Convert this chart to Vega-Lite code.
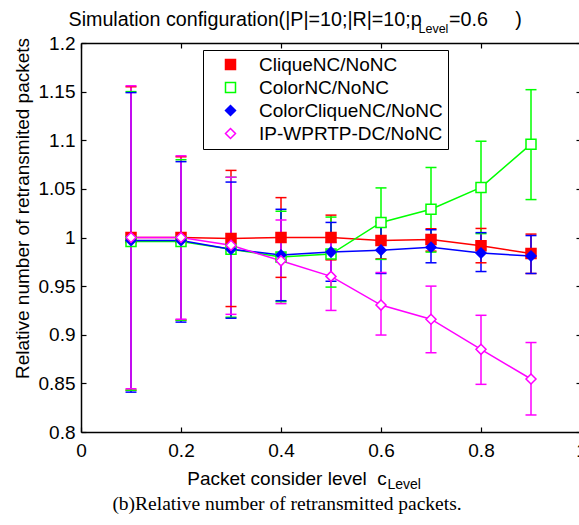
{
  "$schema": "https://vega.github.io/schema/vega-lite/v6.json",
  "width": 500,
  "height": 389,
  "autosize": {"type": "none"},
  "padding": {"left": 81, "top": 43, "right": -2, "bottom": 93},
  "background": "white",
  "config": {
    "view": {"stroke": null},
    "font": "Liberation Sans",
    "axis": {
      "grid": false,
      "domainColor": "black",
      "domainWidth": 1.5,
      "tickColor": "black",
      "tickWidth": 1.2,
      "tickSize": -5,
      "labelColor": "black",
      "labelFont": "Liberation Sans",
      "labelFontSize": 19,
      "titleColor": "black",
      "titleFont": "Liberation Sans",
      "titleFontWeight": "normal",
      "labelFlush": false,
      "labelOverlap": false
    },
    "legend": {
      "labelFont": "Liberation Sans",
      "labelFontSize": 19,
      "labelColor": "black",
      "labelLimit": 400,
      "symbolStrokeWidth": 1.5
    }
  },
  "title": {
    "text": "Packet consider level\u00a0\u00a0c",
    "subtitle": "(b)Relative number of retransmitted packets.",
    "orient": "bottom",
    "anchor": "middle",
    "frame": "group",
    "dx": -44,
    "offset": -21,
    "font": "Liberation Sans",
    "fontSize": 19,
    "fontWeight": "normal",
    "color": "black",
    "subtitleFont": "Liberation Serif",
    "subtitleFontSize": 19.5,
    "subtitleColor": "black",
    "subtitlePadding": 6
  },
  "data": {
    "values": [
      {"s": "CliqueNC/NoNC", "x": 0.1, "y": 1.0, "lo": 0.843, "hi": 1.155},
      {"s": "CliqueNC/NoNC", "x": 0.2, "y": 1.0, "lo": 0.915, "hi": 1.083},
      {"s": "CliqueNC/NoNC", "x": 0.3, "y": 0.999, "lo": 0.929, "hi": 1.069},
      {"s": "CliqueNC/NoNC", "x": 0.4, "y": 1.0, "lo": 0.959, "hi": 1.041},
      {"s": "CliqueNC/NoNC", "x": 0.5, "y": 1.0, "lo": 0.977, "hi": 1.023},
      {"s": "CliqueNC/NoNC", "x": 0.6, "y": 0.997, "lo": 0.978, "hi": 1.016},
      {"s": "CliqueNC/NoNC", "x": 0.7, "y": 0.998, "lo": 0.986, "hi": 1.009},
      {"s": "CliqueNC/NoNC", "x": 0.8, "y": 0.9915, "lo": 0.974, "hi": 1.0093},
      {"s": "CliqueNC/NoNC", "x": 0.9, "y": 0.9835, "lo": 0.963, "hi": 1.0035},
      {"s": "ColorNC/NoNC", "x": 0.1, "y": 0.996, "lo": 0.843, "hi": 1.15},
      {"s": "ColorNC/NoNC", "x": 0.2, "y": 0.996, "lo": 0.915, "hi": 1.08},
      {"s": "ColorNC/NoNC", "x": 0.3, "y": 0.988, "lo": 0.918, "hi": 1.062},
      {"s": "ColorNC/NoNC", "x": 0.4, "y": 0.98, "lo": 0.934, "hi": 1.027},
      {"s": "ColorNC/NoNC", "x": 0.5, "y": 0.983, "lo": 0.949, "hi": 1.021},
      {"s": "ColorNC/NoNC", "x": 0.6, "y": 1.0155, "lo": 0.9775, "hi": 1.051},
      {"s": "ColorNC/NoNC", "x": 0.7, "y": 1.029, "lo": 0.985, "hi": 1.072},
      {"s": "ColorNC/NoNC", "x": 0.8, "y": 1.0515, "lo": 1.004, "hi": 1.099},
      {"s": "ColorNC/NoNC", "x": 0.9, "y": 1.096, "lo": 1.039, "hi": 1.152},
      {"s": "ColorCliqueNC/NoNC", "x": 0.1, "y": 0.997, "lo": 0.841, "hi": 1.149},
      {"s": "ColorCliqueNC/NoNC", "x": 0.2, "y": 0.997, "lo": 0.913, "hi": 1.078},
      {"s": "ColorCliqueNC/NoNC", "x": 0.3, "y": 0.988, "lo": 0.917, "hi": 1.057},
      {"s": "ColorCliqueNC/NoNC", "x": 0.4, "y": 0.982, "lo": 0.935, "hi": 1.029},
      {"s": "ColorCliqueNC/NoNC", "x": 0.5, "y": 0.985, "lo": 0.955, "hi": 1.0155},
      {"s": "ColorCliqueNC/NoNC", "x": 0.6, "y": 0.987, "lo": 0.963, "hi": 1.011},
      {"s": "ColorCliqueNC/NoNC", "x": 0.7, "y": 0.99, "lo": 0.974, "hi": 1.008},
      {"s": "ColorCliqueNC/NoNC", "x": 0.8, "y": 0.984, "lo": 0.965, "hi": 1.005},
      {"s": "ColorCliqueNC/NoNC", "x": 0.9, "y": 0.981, "lo": 0.963, "hi": 1.002},
      {"s": "IP-WPRTP-DC/NoNC", "x": 0.1, "y": 1.0, "lo": 0.8445, "hi": 1.156},
      {"s": "IP-WPRTP-DC/NoNC", "x": 0.2, "y": 1.0, "lo": 0.916, "hi": 1.084},
      {"s": "IP-WPRTP-DC/NoNC", "x": 0.3, "y": 0.992, "lo": 0.921, "hi": 1.062},
      {"s": "IP-WPRTP-DC/NoNC", "x": 0.4, "y": 0.976, "lo": 0.932, "hi": 1.018},
      {"s": "IP-WPRTP-DC/NoNC", "x": 0.5, "y": 0.96, "lo": 0.925, "hi": 0.995},
      {"s": "IP-WPRTP-DC/NoNC", "x": 0.6, "y": 0.9305, "lo": 0.8997, "hi": 0.964},
      {"s": "IP-WPRTP-DC/NoNC", "x": 0.7, "y": 0.916, "lo": 0.8815, "hi": 0.95},
      {"s": "IP-WPRTP-DC/NoNC", "x": 0.8, "y": 0.885, "lo": 0.849, "hi": 0.92},
      {"s": "IP-WPRTP-DC/NoNC", "x": 0.9, "y": 0.8545, "lo": 0.8175, "hi": 0.892}
    ]
  },
  "layer": [
    {
      "mark": {"type": "rule", "strokeWidth": 1.5},
      "encoding": {
        "x": {
          "field": "x", "type": "quantitative",
          "scale": {"domain": [0, 1], "nice": false, "zero": false},
          "axis": {
            "orient": "bottom",
            "values": [0, 0.2, 0.4, 0.6, 0.8, 1],
            "format": "~g",
            "labelPadding": 14.5,
            "title": "Level",
            "titleFontSize": 14,
            "titleX": 306,
            "titleY": 56,
            "titleAngle": 0,
            "titleAlign": "left",
            "titleBaseline": "alphabetic"
          }
        },
        "y": {
          "field": "lo", "type": "quantitative",
          "scale": {"domain": [0.8, 1.2], "nice": false, "zero": false},
          "axis": {
            "orient": "left",
            "values": [0.8, 0.85, 0.9, 0.95, 1, 1.05, 1.1, 1.15, 1.2],
            "format": "~g",
            "labelPadding": 11,
            "title": "Relative number of retransmited packets",
            "titleFontSize": 19,
            "titleX": -59,
            "titleY": 165,
            "titleAngle": 270,
            "titleAlign": "center",
            "titleBaseline": "middle"
          }
        },
        "y2": {"field": "hi"},
        "color": {
          "field": "s", "type": "nominal",
          "scale": {
            "domain": ["CliqueNC/NoNC", "ColorNC/NoNC", "ColorCliqueNC/NoNC", "IP-WPRTP-DC/NoNC"],
            "range": ["#ff0000", "#00ff00", "#0000ff", "#ff00ff"]
          },
          "legend": {
            "orient": "none",
            "legendX": 122,
            "legendY": 7,
            "title": null,
            "padding": 5,
            "symbolSize": 100,
            "symbolOffset": 13,
            "labelOffset": 19,
            "rowPadding": 3,
            "strokeColor": "black",
            "fillColor": "white"
          }
        }
      }
    },
    {
      "mark": {"type": "rule", "strokeWidth": 1.5, "xOffset": -5.5, "x2Offset": 5.5},
      "encoding": {
        "x": {"field": "x", "type": "quantitative", "axis": null},
        "x2": {"field": "x"},
        "y": {"field": "lo", "type": "quantitative", "axis": null},
        "color": {"field": "s", "type": "nominal"}
      }
    },
    {
      "mark": {"type": "rule", "strokeWidth": 1.5, "xOffset": -5.5, "x2Offset": 5.5},
      "encoding": {
        "x": {"field": "x", "type": "quantitative", "axis": null},
        "x2": {"field": "x"},
        "y": {"field": "hi", "type": "quantitative", "axis": null},
        "color": {"field": "s", "type": "nominal"}
      }
    },
    {
      "mark": {"type": "line", "strokeWidth": 1.5},
      "encoding": {
        "x": {
          "field": "x", "type": "quantitative",
          "axis": {
            "orient": "top",
            "values": [0, 0.2, 0.4, 0.6, 0.8, 1],
            "labels": false,
            "title": "Simulation configuration(|P|=10;|R|=10;p\u00a0\u00a0\u00a0\u00a0\u00a0=0.6\u00a0\u00a0\u00a0\u00a0\u00a0)",
            "titleFontSize": 19.7,
            "titleX": -13,
            "titleY": -18,
            "titleAngle": 0,
            "titleAlign": "left",
            "titleBaseline": "alphabetic"
          }
        },
        "y": {
          "field": "y", "type": "quantitative",
          "axis": {
            "orient": "right",
            "values": [0.8, 0.85, 0.9, 0.95, 1, 1.05, 1.1, 1.15, 1.2],
            "labels": false,
            "title": "Level",
            "titleFontSize": 12.5,
            "titleX": -163,
            "titleY": -11,
            "titleAngle": 0,
            "titleAlign": "left",
            "titleBaseline": "alphabetic"
          }
        },
        "color": {"field": "s", "type": "nominal"}
      }
    },
    {
      "mark": {"type": "point", "filled": false, "size": 100, "strokeWidth": 1.5, "opacity": 1},
      "encoding": {
        "x": {"field": "x", "type": "quantitative", "axis": null},
        "y": {"field": "y", "type": "quantitative", "axis": null},
        "color": {"field": "s", "type": "nominal"},
        "fill": {
          "field": "s", "type": "nominal",
          "scale": {
            "domain": ["CliqueNC/NoNC", "ColorNC/NoNC", "ColorCliqueNC/NoNC", "IP-WPRTP-DC/NoNC"],
            "range": ["#ff0000", "#ffffff", "#0000ff", "#ffffff"]
          },
          "legend": {
            "orient": "none",
            "legendX": 122,
            "legendY": 7,
            "title": null,
            "padding": 5,
            "symbolSize": 100,
            "symbolOffset": 13,
            "labelOffset": 19,
            "rowPadding": 3,
            "strokeColor": "black",
            "fillColor": "white"
          }
        },
        "shape": {
          "field": "s", "type": "nominal",
          "scale": {
            "domain": ["CliqueNC/NoNC", "ColorNC/NoNC", "ColorCliqueNC/NoNC", "IP-WPRTP-DC/NoNC"],
            "range": ["square", "square", "diamond", "diamond"]
          },
          "legend": null
        }
      }
    }
  ],
  "resolve": {"axis": {"x": "independent", "y": "independent"}}
}
